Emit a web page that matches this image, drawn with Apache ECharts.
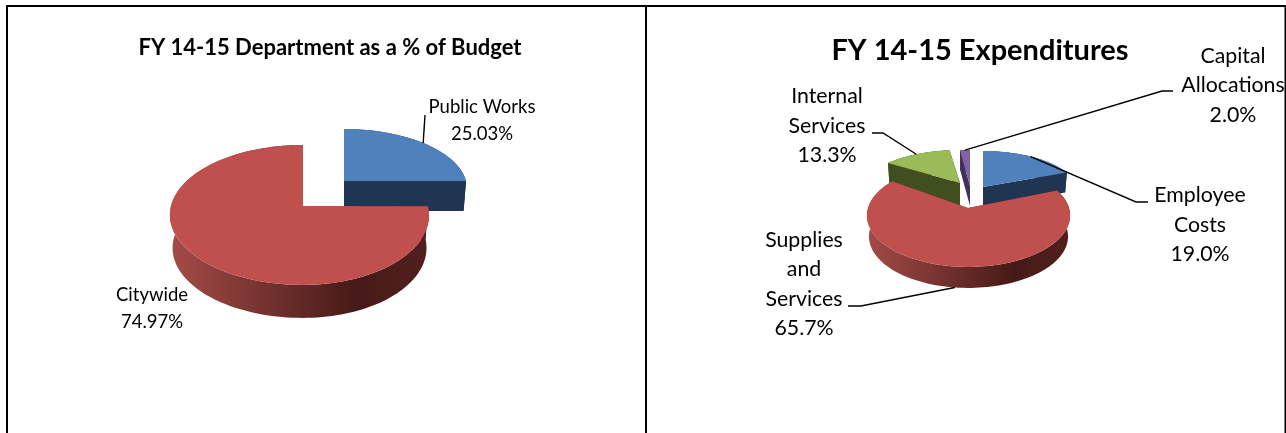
<!DOCTYPE html>
<html>
<head>
<meta charset="utf-8">
<style>
html, body { margin: 0; padding: 0; background: #fff; }
#chart { width: 1286px; height: 433px; }
</style>
<script src="https://cdn.jsdelivr.net/npm/echarts@6/dist/echarts.min.js"></script>
</head>
<body>
<div id="chart"></div>
<script>
var budgetNames = ['Public Works', 'Citywide'];
var budgetValues = [25.03, 74.97];
var expenseNames = ['Employee\nCosts', 'Supplies\nand\nServices', 'Internal\nServices', 'Capital\nAllocations'];
var expenseValues = [19.0, 65.7, 13.3, 2.0];

var RED = { top: '#bf504d', gradient: true };
var BLUE = { top: '#4f81bd', wall: '#1f3552' };
var GREEN = { top: '#9bbb59', wall: '#414f20' };
var PURPLE = { top: '#8064a2', wall: '#41315a' };

// slice placement only, the angles come from the values
var budgetLayout = {
    font: '18.5px Lato', lineHeight: 27, decimals: 2,
    slices: [
        { color: BLUE, cx: 344, cy: 181, rl: 122, rr: 122, rt: 52, k: 0.128, h: 30, order: 1,
          label: [482, 121], elbow: [[425, 115]] },
        { color: RED, cx: 303, cy: 206, rl: 132, rr: 125, rt: 61, k: 0.128, h: 33, order: 2,
          label: [152, 309] }
    ]
};
var expenseLayout = {
    font: '21.3px Lato', lineHeight: 29.5, decimals: 1,
    slices: [
        { color: BLUE, cx: 983, cy: 187, rl: 95, rr: 95, rt: 36, k: 0.145, h: 20, order: 2,
          label: [1200, 225], elbow: [[1136, 202], [1148, 202]] },
        { color: RED, cx: 968, cy: 208, rl: 100, rr: 101, rt: 44, k: 0.145, h: 21, order: 4,
          label: [804, 284], elbow: [[861, 306], [848, 306]] },
        { color: GREEN, cx: 960, cy: 183, rl: 95, rr: 95, rt: 33, k: 0.145, h: 23, order: 3,
          label: [827, 126], elbow: [[883, 133], [872, 133]] },
        { color: PURPLE, cx: 970, cy: 186, rl: 91, rr: 91, rt: 36, k: 0.145, h: 20, order: 1,
          label: [1233, 85.5], elbow: [[1162, 91], [1173, 91]] }
    ]
};

function project(s, deg, taper, drop) {
    var a = deg * Math.PI / 180;
    var u = Math.sin(a), v = -Math.cos(a);
    var p = 1 / (1 - s.k * v);
    var rx = u < 0 ? s.rl : s.rr;
    var ry = s.rt * (1 + s.k);
    return [s.cx + rx * u * p * taper, s.cy + ry * v * p + drop];
}

function arcPoints(s, from, to, taper, drop) {
    var pts = [];
    for (var d = from; d < to; d += 2) pts.push(project(s, d, taper, drop));
    pts.push(project(s, to, taper, drop));
    return pts;
}

function makeRender(names, values, layout) {
    var total = values.reduce(function (a, b) { return a + b; }, 0);
    return function (params) {
        var i = params.dataIndex;
        var s = layout.slices[i];
        var before = 0;
        for (var n = 0; n < i; n++) before += values[n];
        var from = before / total * 360;
        var to = (before + values[i]) / total * 360;
        var z = s.order * 10;
        var apex = [s.cx, s.cy];
        var apexLow = [s.cx, s.cy + s.h];
        var topArc = arcPoints(s, from, to, 1, 0);
        var lowArc = arcPoints(s, from, to, 0.98, s.h);
        var wallFill = s.color.gradient
            ? new echarts.graphic.LinearGradient(0, 0, 1, 0, [
                { offset: 0, color: '#a54b48' },
                { offset: 0.72, color: '#461a18' },
                { offset: 1, color: '#52201e' }
            ])
            : s.color.wall;
        var radialFill = s.color.gradient ? '#5a2422' : s.color.wall;
        var kids = [
            { type: 'polygon', z2: z, shape: { points: [apex, topArc[0], lowArc[0], apexLow] }, style: { fill: radialFill } },
            { type: 'polygon', z2: z, shape: { points: [apex, topArc[topArc.length - 1], lowArc[lowArc.length - 1], apexLow] }, style: { fill: radialFill } },
            { type: 'polygon', z2: z + 1, shape: { points: topArc.concat(lowArc.slice().reverse()) }, style: { fill: wallFill } },
            { type: 'polygon', z2: z + 2, shape: { points: [apex].concat(topArc) }, style: { fill: s.color.top } }
        ];
        // leader goes to the middle of the slice's outer edge
        if (s.elbow) {
            var mid = (from + to) / 2;
            var front = Math.cos(mid * Math.PI / 180) < 0;
            var anchor = project(s, mid, front ? 0.98 : 1, front ? s.h : 0);
            kids.push({
                type: 'polyline', z2: 100,
                shape: { points: [anchor].concat(s.elbow) },
                style: { fill: null, stroke: '#000', lineWidth: 1.4 }
            });
        }
        kids.push({
            type: 'text', z2: 101,
            style: {
                x: s.label[0], y: s.label[1],
                text: names[i] + '\n' + values[i].toFixed(layout.decimals) + '%',
                font: layout.font, lineHeight: layout.lineHeight,
                fill: '#000', align: 'center', verticalAlign: 'middle'
            }
        });
        return { type: 'group', children: kids };
    };
}

var gChart = echarts.init(document.getElementById('chart'));
gChart.setOption({
    backgroundColor: '#fff',
    animation: false,
    title: [
        { text: 'FY 14-15 Department as a % of Budget', left: 325, top: 43, textAlign: 'center', textVerticalAlign: 'middle',
          textStyle: { fontFamily: 'Lato', fontWeight: 'bold', fontSize: 22, color: '#000' } },
        { text: 'FY 14-15 Expenditures', left: 975, top: 46, textAlign: 'center', textVerticalAlign: 'middle',
          textStyle: { fontFamily: 'Lato', fontWeight: 'bold', fontSize: 29, color: '#000' } }
    ],
    graphic: [
        { type: 'rect', shape: { x: 6, y: 5, width: 1280, height: 2 }, style: { fill: '#000' } },
        { type: 'rect', shape: { x: 6, y: 5, width: 2, height: 428 }, style: { fill: '#000' } },
        { type: 'rect', shape: { x: 645, y: 5, width: 2, height: 428 }, style: { fill: '#000' } },
        { type: 'rect', shape: { x: 1284.5, y: 5, width: 1.5, height: 428 }, style: { fill: '#000' } }
    ],
    series: [
        { type: 'custom', coordinateSystem: 'none', silent: true, clip: false,
          renderItem: makeRender(budgetNames, budgetValues, budgetLayout),
          data: budgetValues },
        { type: 'custom', coordinateSystem: 'none', silent: true, clip: false,
          renderItem: makeRender(expenseNames, expenseValues, expenseLayout),
          data: expenseValues }
    ]
});
</script>
</body>
</html>
